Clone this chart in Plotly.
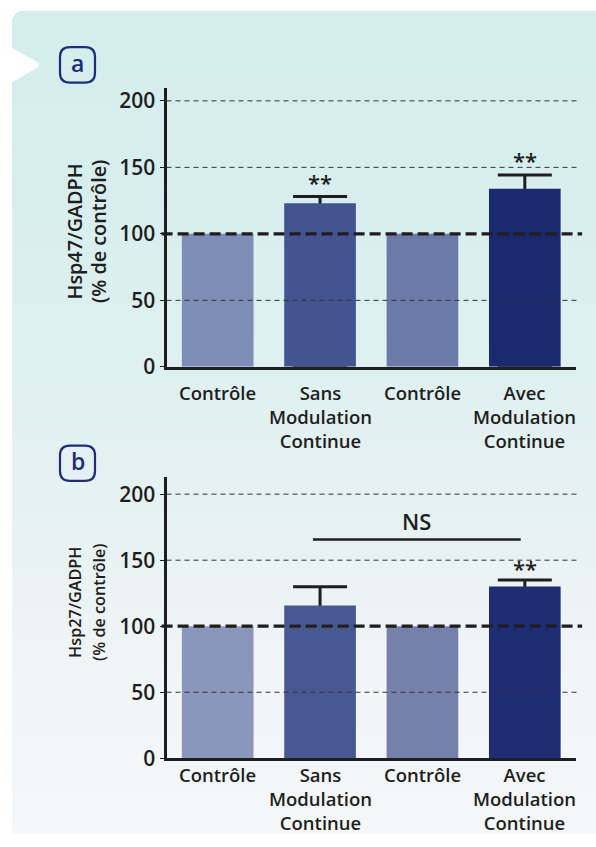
import plotly.graph_objects as go

W, H = 596, 847

# ---------------- data ----------------
categories = ["Contrôle", "Sans<br>Modulation<br>Continue", "Contrôle", "Avec<br>Modulation<br>Continue"]
cat_pos = [0, 1, 2, 3]
y_ticks = [0, 50, 100, 150, 200]
grid_values = [50, 150, 200]
ref_level = 100

hsp47_values = [100, 123, 100, 134]
hsp47_err = [0, 5, 0, 10.3]
hsp47_sig = ["", "**", "", "**"]
hsp47_sig_y = [0, 139, 0, 155.5]

hsp27_values = [100, 115.7, 100, 130]
hsp27_err = [0, 14.2, 0, 5]
hsp27_sig = ["", "", "", "**"]
hsp27_sig_y = [0, 0, 0, 144]

ns_label = "NS"
ns_from, ns_to, ns_level, ns_text_y = 0.93, 2.96, 165.7, 180

hsp47_colors = ["#7d8db5", "#435490", "#6b7aa8", "#1b2a6e"]
hsp27_colors = ["#8a96bb", "#475893", "#7580ab", "#1f2d75"]

title_a = ["Hsp47/GADPH", "(% de contrôle)"]
title_b = ["Hsp27/GADPH", "(% de contrôle)"]

# ---------------- helpers ----------------
FONT = "Open Sans"
WEIGHT = 600
INK = "#1e1e1e"
NAVY = "#1f2d78"


def fx(x):
    return x / W


def fy(y):
    return 1 - y / H


def px(x, y):
    return f"{fx(x):.5f},{fy(y):.5f}"


def tight(lines, size):
    # bigger glyphs inside a smaller base font -> tighter line spacing
    return "<br>".join(f"<span style='font-size:{size}px'>{t}</span>" for t in lines)


def hx(c):
    return tuple(int(c[i:i + 2], 16) for i in (1, 3, 5))


bg_stops = [(10, "#d3eeec"), (200, "#d8eeee"), (400, "#e0f0f0"),
            (550, "#e8f2f3"), (650, "#eff4f6"), (847, "#f5f7f9")]


def bg_col(y):
    for (ya, ca), (yb, cb) in zip(bg_stops[:-1], bg_stops[1:]):
        if ya <= y <= yb:
            t = (y - ya) / (yb - ya)
            a, b = hx(ca), hx(cb)
            return "rgb(%d,%d,%d)" % tuple(round(a[i] + (b[i] - a[i]) * t) for i in range(3))
    return bg_stops[-1][1]


shapes = []
annotations = []

# background panel with gradient
n = 70
top, bot = 10, H
for i in range(n):
    ya = top + (bot - top) * i / n
    yb = min(top + (bot - top) * (i + 1) / n + 0.6, bot)
    shapes.append(dict(type="rect", xref="paper", yref="paper", x0=fx(12), x1=1.0,
                       y0=fy(yb), y1=fy(ya), fillcolor=bg_col((ya + yb) / 2),
                       line=dict(width=0), layer="below"))
# rounded corner mask
shapes.append(dict(type="path", xref="paper", yref="paper",
                   path=f"M{px(11, 9)} L{px(26, 9)} Q{px(12, 10)} {px(11, 24)} Z",
                   fillcolor="white", line=dict(width=0), layer="below"))
# notch
shapes.append(dict(type="path", xref="paper", yref="paper",
                   path=f"M{px(11, 47)} L{px(37, 62)} Q{px(41, 65)} {px(37, 68)} L{px(11, 83)} Z",
                   fillcolor="white", line=dict(width=0), layer="below"))


def rrect(x0, y0, x1, y1, r):
    return (f"M{px(x0 + r, y0)} L{px(x1 - r, y0)} Q{px(x1, y0)} {px(x1, y0 + r)} "
            f"L{px(x1, y1 - r)} Q{px(x1, y1)} {px(x1 - r, y1)} L{px(x0 + r, y1)} "
            f"Q{px(x0, y1)} {px(x0, y1 - r)} L{px(x0, y0 + r)} Q{px(x0, y0)} {px(x0 + r, y0)} Z")


for letter, ytop in (("a", 47), ("b", 452)):
    shapes.append(dict(type="path", xref="paper", yref="paper", path=rrect(60, ytop, 95, ytop + 36, 10),
                       fillcolor="rgba(0,0,0,0)", line=dict(color=NAVY, width=2.2)))
    annotations.append(dict(text=letter, xref="paper", yref="paper", x=fx(77.5), y=fy(ytop + 16),
                            showarrow=False, xanchor="center", yanchor="middle",
                            font=dict(family=FONT, size=23, color=NAVY, weight=WEIGHT)))

fig = go.Figure()

panels = [
    dict(values=hsp47_values, err=hsp47_err, colors=hsp47_colors, sig=hsp47_sig, sig_y=hsp47_sig_y,
         xa="x", ya="y", title=title_a, title_size=19.8, title_x=86, title_y=235, label_top=383),
    dict(values=hsp27_values, err=hsp27_err, colors=hsp27_colors, sig=hsp27_sig, sig_y=hsp27_sig_y,
         xa="x2", ya="y2", title=title_b, title_size=16.2, title_x=87, title_y=612, label_top=772),
]

BAR_W = 0.70
for p in panels:
    treated = [i for i, e in enumerate(p["err"]) if e > 0]
    # error bars (drawn under the coloured bars so their lower part is hidden)
    fig.add_trace(go.Bar(
        x=[cat_pos[i] for i in treated], y=[p["values"][i] for i in treated],
        width=BAR_W, marker=dict(color="rgba(0,0,0,0)", line=dict(width=0)),
        error_y=dict(type="data", symmetric=False, array=[p["err"][i] for i in treated],
                     arrayminus=[p["values"][i] for i in treated], color=INK, thickness=3, width=27),
        xaxis=p["xa"], yaxis=p["ya"], showlegend=False, hoverinfo="skip"))
    fig.add_trace(go.Bar(
        x=cat_pos, y=p["values"], width=BAR_W,
        marker=dict(color=p["colors"], line=dict(width=0)),
        xaxis=p["xa"], yaxis=p["ya"], showlegend=False))

    xd = p["xa"] + " domain"
    for g in grid_values:
        shapes.append(dict(type="line", xref=xd, yref=p["ya"], x0=0, x1=1.01, y0=g, y1=g,
                           line=dict(color="#333333", width=1, dash="5px,4px")))
    shapes.append(dict(type="line", xref=xd, yref=p["ya"], x0=-0.012, x1=1.015, y0=ref_level, y1=ref_level,
                       line=dict(color=INK, width=3.2, dash="11px,5px")))

    for i, s in enumerate(p["sig"]):
        if s:
            annotations.append(dict(text=s, xref=p["xa"], yref=p["ya"], x=cat_pos[i], y=p["sig_y"][i],
                                    showarrow=False, xanchor="center", yanchor="middle",
                                    font=dict(family=FONT, size=22, color=INK, weight=WEIGHT)))
    # category labels
    for c, lab in zip(cat_pos, categories):
        annotations.append(dict(text=lab, xref=p["xa"], yref="paper", x=c,
                                y=fy(p["label_top"]), showarrow=False, xanchor="center", yanchor="top",
                                font=dict(family=FONT, size=18.5, color=INK, weight=WEIGHT)))
    # y title (two rotated lines)
    annotations.append(dict(text=tight(p["title"], p["title_size"]), xref="paper", yref="paper",
                            x=fx(p["title_x"]), y=fy(p["title_y"]), textangle=-90, showarrow=False,
                            xanchor="center", yanchor="middle",
                            font=dict(family=FONT, size=18.3, color=INK, weight=WEIGHT)))

# NS bracket
shapes.append(dict(type="line", xref="x2", yref="y2", x0=ns_from, x1=ns_to, y0=ns_level, y1=ns_level,
                   line=dict(color=INK, width=2.5)))
annotations.append(dict(text=ns_label, xref="x2", yref="y2", x=(ns_from + ns_to) / 2, y=ns_text_y,
                        showarrow=False, xanchor="center", yanchor="middle",
                        font=dict(family=FONT, size=22, color=INK, weight=WEIGHT)))

xcommon = dict(range=[-0.5, 3.5], showgrid=False, zeroline=False, showline=True, linewidth=3,
               linecolor=INK, showticklabels=False, ticks="", fixedrange=True)
ycommon = dict(showgrid=False, zeroline=False, showline=True, linewidth=3, linecolor=INK,
               tickvals=y_ticks, ticks="outside", ticklen=4, tickwidth=1.2, tickcolor=INK,
               tickfont=dict(family=FONT, size=21, color=INK, weight=WEIGHT), fixedrange=True)

fig.update_layout(
    width=W, height=H, margin=dict(l=0, r=0, t=0, b=0),
    paper_bgcolor="white", plot_bgcolor="rgba(0,0,0,0)",
    barmode="overlay", showlegend=False,
    xaxis=dict(domain=[fx(166.5), fx(576)], anchor="y", **xcommon),
    yaxis=dict(domain=[fy(372), fy(88)], anchor="x", range=[0, 210], **ycommon),
    xaxis2=dict(domain=[fx(166.5), fx(576)], anchor="y2", **xcommon),
    yaxis2=dict(domain=[fy(770), fy(484)], anchor="x2", range=[0, 213], **ycommon),
    shapes=shapes, annotations=annotations,
)

# the page body keeps no margin so the figure fills the window exactly
fig.write_html("out.html", post_script="document.body.style.margin='0px';",
               config={"displayModeBar": False})
